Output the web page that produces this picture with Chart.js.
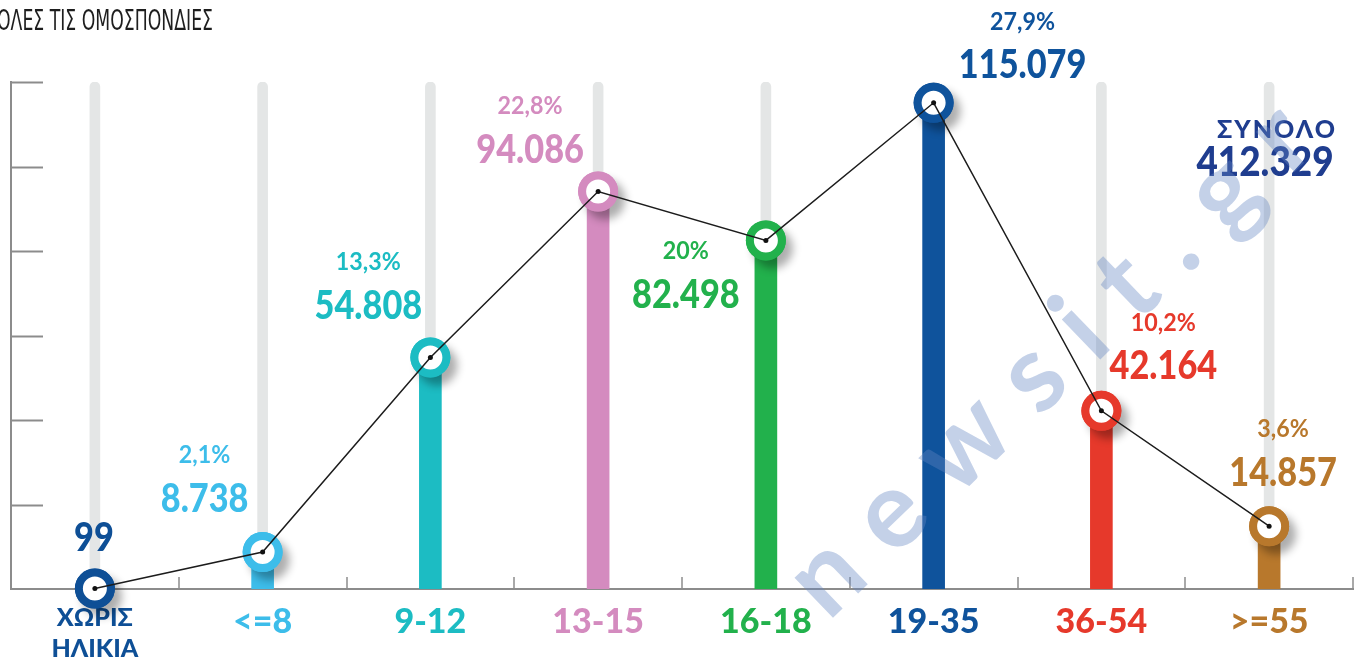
<!DOCTYPE html>
<html>
<head>
<meta charset="utf-8">
<script src="https://cdn.jsdelivr.net/npm/chart.js@4.4.0/dist/chart.umd.min.js"></script>
<style>
  html, body { margin: 0; padding: 0; background: #fff; }
  #wrap { width: 1365px; height: 664px; position: relative; }
</style>
</head>
<body>
<div id="wrap"><canvas id="chart" width="1365" height="664"></canvas></div>
<script>
// data
var categories = [['ΧΩΡΙΣ', 'ΗΛΙΚΙΑ'], '<=8', '9-12', '13-15', '16-18', '19-35', '36-54', '>=55'];
var athletes = [99, 8738, 54808, 94086, 82498, 115079, 42164, 14857];
var percentLabels = ['', '2,1%', '13,3%', '22,8%', '20%', '27,9%', '10,2%', '3,6%'];
var yTicks = [0, 20000, 40000, 60000, 80000, 100000, 120000];
var titleText = 'ΟΛΕΣ ΤΙΣ ΟΜΟΣΠΟΝΔΙΕΣ';
var totalText = 'ΣΥΝΟΛΟ';
var watermarkText = 'newsit.gr';

// styles
var colors = ['#0e4f96', '#3dbdea', '#1cbcc3', '#d48bbf', '#22b14c', '#0f539c', '#e6392b', '#b8782c'];
var labelOffsets = [[-1, -50], [-58, -53], [-62, -51], [-68, -41], [-80, 55], [89, -37], [62, -44], [14, -53]];
var axisGray = '#8c8c8c';
var fontStack = "Lato, 'Open Sans', sans-serif";

var yMax = yTicks[yTicks.length - 1];
var total = athletes.reduce(function (a, b) { return a + b; }, 0);

function fmt(n) {
    return String(n).replace(/\B(?=(\d{3})+(?!\d))/g, '.');
}

function drawText(ctx, text, x, y, font, color, sx) {
    ctx.save();
    ctx.font = font;
    ctx.fillStyle = color;
    ctx.textAlign = 'center';
    ctx.textBaseline = 'middle';
    ctx.translate(x, y);
    ctx.scale(sx || 1, 1);
    ctx.fillText(text, 0, 0);
    ctx.restore();
}

var decor = {
    id: 'decor',
    beforeDatasetsDraw: function (chart) {
        var ctx = chart.ctx, area = chart.chartArea;
        var xs = chart.scales.x, ys = chart.scales.y;
        ctx.save();
        ctx.strokeStyle = axisGray;
        ctx.lineWidth = 2;
        // y tick marks pointing inwards
        yTicks.forEach(function (v) {
            if (v === 0) return;
            var y = Math.round(ys.getPixelForValue(v)) + 0.5;
            ctx.beginPath();
            ctx.moveTo(area.left, y);
            ctx.lineTo(area.left + 32, y);
            ctx.stroke();
        });
        // x tick marks between categories
        var w = xs.getPixelForValue(1) - xs.getPixelForValue(0);
        ctx.lineWidth = 1.5;
        for (var i = 0; i < categories.length; i++) {
            var x = Math.round(xs.getPixelForValue(i) + w / 2);
            ctx.beginPath();
            ctx.moveTo(x, area.bottom);
            ctx.lineTo(x, area.bottom - 12);
            ctx.stroke();
        }
        ctx.restore();
    },
    beforeDatasetDraw: function (chart, args) {
        if (args.index !== 2) return;
        var ctx = chart.ctx;
        ctx.save();
        ctx.shadowColor = 'rgba(0,0,0,0.32)';
        ctx.shadowBlur = 8;
        ctx.shadowOffsetX = 7;
        ctx.shadowOffsetY = 8;
    },
    afterDatasetDraw: function (chart, args) {
        if (args.index !== 2) return;
        chart.ctx.restore();
    },
    afterDatasetsDraw: function (chart) {
        var ctx = chart.ctx;
        var xs = chart.scales.x, ys = chart.scales.y;
        athletes.forEach(function (v, i) {
            var px = xs.getPixelForValue(i), py = ys.getPixelForValue(v);
            var lx = px + labelOffsets[i][0], ly = py + labelOffsets[i][1];
            drawText(ctx, fmt(v), lx, ly, '900 39px ' + fontStack, colors[i], 0.88);
            if (percentLabels[i]) {
                drawText(ctx, percentLabels[i], lx, ly - 44, 'bold 24px ' + fontStack, colors[i], 0.97);
            }
        });
        // total
        ctx.save();
        ctx.letterSpacing = '2px';
        drawText(ctx, totalText, 1277, 130, '900 25px ' + fontStack, '#1f3d8f', 1);
        ctx.restore();
        drawText(ctx, fmt(total), 1265, 163, '900 41px ' + fontStack, '#1f3d8f', 0.9);
    },
    afterDraw: function (chart) {
        var ctx = chart.ctx;
        // title (only the second line is visible in the crop)
        ctx.save();
        ctx.font = "28px 'Liberation Sans Narrow', 'DejaVu Sans Condensed', sans-serif";
        var tw = ctx.measureText(titleText).width;
        ctx.fillStyle = '#1e1e1e';
        ctx.textBaseline = 'alphabetic';
        ctx.translate(-3, 30);
        ctx.scale(216 / tw, 1);
        ctx.fillText(titleText, 0, 0);
        ctx.restore();
        // watermark
        ctx.save();
        ctx.translate(1060, 350);
        ctx.rotate(-44 * Math.PI / 180);
        ctx.font = 'bold 108px ' + fontStack;
        ctx.letterSpacing = '30px';
        ctx.fillStyle = 'rgba(100,135,195,0.38)';
        ctx.textAlign = 'center';
        ctx.textBaseline = 'middle';
        ctx.fillText(watermarkText, 0, 0);
        ctx.restore();
    }
};

Chart.defaults.font.family = fontStack;

new Chart(document.getElementById('chart'), {
    type: 'bar',
    data: {
        labels: categories,
        datasets: [
            {
                type: 'line',
                label: 'line',
                data: athletes,
                borderColor: '#1c1c1c',
                borderWidth: 1.5,
                pointRadius: 2.5,
                pointBorderWidth: 0,
                pointBackgroundColor: '#111',
                tension: 0,
                clip: false,
                order: 0
            },
            {
                type: 'line',
                label: 'markers',
                data: athletes,
                showLine: false,
                pointRadius: 16,
                pointBorderWidth: 8,
                pointBorderColor: colors,
                pointBackgroundColor: '#ffffff',
                clip: false,
                order: 1
            },
            {
                type: 'line',
                label: 'marker shadow',
                data: athletes,
                showLine: false,
                pointRadius: 20,
                pointBorderWidth: 0,
                pointBackgroundColor: colors,
                clip: false,
                order: 2
            },
            {
                label: 'bars',
                data: athletes,
                backgroundColor: colors,
                barThickness: 22,
                grouped: false,
                order: 3
            },
            {
                label: 'track',
                data: athletes.map(function () { return yMax; }),
                backgroundColor: '#e4e6e6',
                barThickness: 10,
                borderRadius: { topLeft: 5, topRight: 5 },
                borderSkipped: 'bottom',
                grouped: false,
                order: 4
            }
        ]
    },
    options: {
        responsive: false,
        animation: false,
        layout: { autoPadding: false, padding: { left: 11, right: 12, top: 82, bottom: -13 } },
        plugins: {
            legend: { display: false },
            tooltip: { enabled: false }
        },
        scales: {
            x: {
                offset: true,
                grid: { display: false, drawTicks: false },
                border: { display: true, color: axisGray, width: 2 },
                ticks: {
                    padding: 13,
                    maxRotation: 0,
                    autoSkip: false,
                    color: function (c) { return colors[c.index]; },
                    font: function (c) {
                        if (c.index === 0) return { size: 25, weight: 900, lineHeight: '31px' };
                        return { size: 34, weight: 900, lineHeight: '41px' };
                    }
                }
            },
            y: {
                min: 0,
                max: yMax,
                grid: { display: false, drawTicks: false },
                border: { display: true, color: axisGray, width: 2 },
                ticks: { display: false, stepSize: 20000 }
            }
        }
    },
    plugins: [decor]
});
</script>
</body>
</html>
